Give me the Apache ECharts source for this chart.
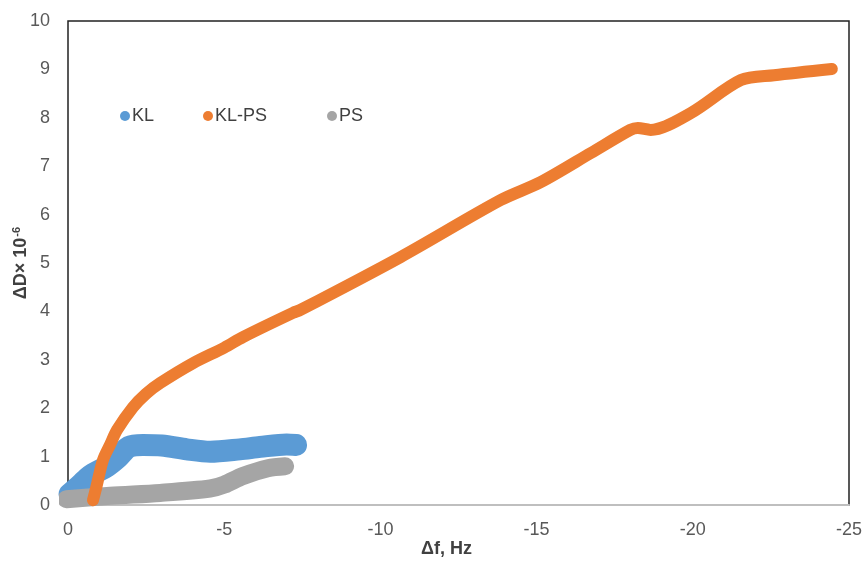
<!DOCTYPE html>
<html>
<head>
<meta charset="utf-8">
<script src="https://cdn.jsdelivr.net/npm/echarts@6/dist/echarts.min.js"></script>
<style>html,body{margin:0;padding:0;background:#fff;}#c{width:865px;height:566px;}</style>
</head>
<body>
<div id="c"></div>
<script>
var seriesNames = ['KL', 'KL-PS', 'PS'];
var xTicks = [0, -5, -10, -15, -20, -25];
var yTicks = [0, 1, 2, 3, 4, 5, 6, 7, 8, 9, 10];

var klData = [[-0.05,0.22],[-0.4,0.42],[-0.7,0.6],[-1.25,0.8],[-1.6,0.98],[-1.95,1.2],[-2.4,1.24],[-3.0,1.23],[-3.8,1.15],[-4.55,1.1],[-5.5,1.15],[-6.15,1.2],[-7.0,1.25],[-7.3,1.24]];
var klpsData = [[-0.8,0.1],[-0.9,0.35],[-1.12,0.93],[-1.35,1.25],[-1.57,1.55],[-2.08,2.02],[-2.5,2.3],[-2.95,2.52],[-4.0,2.93],[-5.0,3.25],[-5.6,3.47],[-7.2,3.97],[-7.44,4.03],[-10.64,5.12],[-13.85,6.30],[-15.13,6.67],[-16.73,7.27],[-18.0,7.75],[-18.24,7.79],[-18.65,7.75],[-19.94,8.10],[-21.54,8.78],[-22.6,8.88],[-24.45,9.01]];
var psData = [[0.05,0.12],[-1.35,0.19],[-2.95,0.25],[-4.55,0.34],[-5.0,0.42],[-5.6,0.6],[-6.4,0.76],[-6.95,0.8]];

var colors = ['#5B9BD5', '#ED7D31', '#A5A5A5'];
var widths = [22, 12, 18];
var datasets = [klData, klpsData, psData];
var legendLefts = [115, 198, 322];

var chart = echarts.init(document.getElementById('c'));
var ff = 'Liberation Sans, Arial, sans-serif';
var labelStyle = {color: '#595959', fontSize: 18, fontFamily: ff};

chart.setOption({
  animation: false,
  color: colors,
  grid: {left: 68, right: 16, top: 21, bottom: 61, show: true, borderColor: '#222', borderWidth: 1.5, backgroundColor: 'transparent', outerBoundsMode: 'none', containLabel: false},
  legend: seriesNames.map(function (n, i) {
    return {
      left: legendLefts[i], top: 102, itemWidth: 10, itemHeight: 10, icon: 'circle',
      textStyle: {color: '#404040', fontSize: 18, fontFamily: ff, padding: [0,0,0,-3]},
      data: [n]
    };
  }),
  xAxis: {
    type: 'value', min: -25, max: 0, interval: 5, inverse: true,
    axisLine: {show: true, onZero: false, lineStyle: {color: '#bfbfbf', width: 2}},
    axisTick: {show: false}, splitLine: {show: false},
    axisLabel: Object.assign({margin: 16}, labelStyle),
    name: 'Δf, Hz', nameLocation: 'middle', nameGap: 35, nameMoveOverlap: false,
    nameTextStyle: {fontWeight: 'bold', fontSize: 18, color: '#404040', fontFamily: ff, padding: [0, 24, 0, 0]}
  },
  yAxis: {
    type: 'value', min: 0, max: 10, interval: 1,
    axisLine: {show: false}, axisTick: {show: false}, splitLine: {show: false},
    axisLabel: Object.assign({margin: 18}, labelStyle),
    name: '{a|ΔD× 10}{s|-6}', nameLocation: 'middle', nameGap: 37, nameRotate: 90, nameMoveOverlap: false,
    nameTextStyle: {
      rich: {
        a: {fontWeight: 'bold', fontSize: 18, color: '#404040', fontFamily: ff},
        s: {fontWeight: 'bold', fontSize: 11, color: '#404040', fontFamily: ff, padding: [0,0,9,1]}
      }
    }
  },
  series: datasets.map(function (d, i) {
    return {
      name: seriesNames[i], type: 'line', data: d, showSymbol: false, symbol: 'circle', clip: false,
      smooth: 0.3,
      z: i === 0 ? 2 : (i === 1 ? 4 : 3),
      lineStyle: {width: widths[i], color: colors[i], cap: 'round', join: 'round'},
      itemStyle: {color: colors[i]}
    };
  })
});
</script>
</body>
</html>
